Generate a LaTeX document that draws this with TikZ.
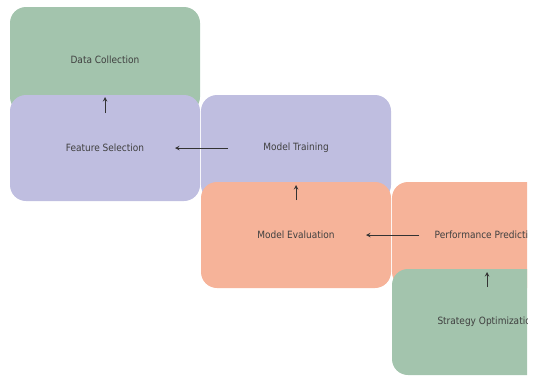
\documentclass[tikz,border=0pt]{standalone}
\usepackage{fontspec}
\setmainfont{DejaVu Sans}[FakeStretch=0.9]
\usepackage{tikz}

\definecolor{stagegreen}{RGB}{163,196,173}
\definecolor{stagelav}{RGB}{191,190,224}
\definecolor{stagesalmon}{RGB}{246,179,153}

\begin{document}
\begin{tikzpicture}[x=1pt,y=-1pt]
\tikzstyle{every node}=[rounded corners=16pt,minimum width=190pt,minimum height=106pt,inner sep=0pt,font=\fontsize{10}{12}\selectfont,text=black!75]
\tikzstyle{flow}=[->,>=stealth,line width=1pt,black!80]
\tikzstyle{hop}=[shorten <=68pt,shorten >=70pt]
\tikzstyle{up}=[shorten <=35pt,shorten >=37pt]

\useasboundingbox (0,0) rectangle (541,375);
\clip (0,0) rectangle (527,375);

\node[fill=stagegreen] (collect) at (105,60) {Data Collection};
\node[fill=stagelav] (select) at (105,148) {Feature Selection};
\node[fill=stagelav] (train) at (296,148) {Model Training};
\node[fill=stagesalmon] (evaluate) at (296,235) {Model Evaluation};
\node[fill=stagesalmon] (predict) at (487,235) {Performance Prediction};
\node[fill=stagegreen] (optimize) at (487,322) {Strategy Optimization};

\draw[flow,up] (select.center) -- (collect.center);
\draw[flow,hop] (train.center) -- (select.center);
\draw[flow,up] (evaluate.center) -- (train.center);
\draw[flow,hop] (predict.center) -- (evaluate.center);
\draw[flow,up] (optimize.center) -- (predict.center);
\end{tikzpicture}
\end{document}
